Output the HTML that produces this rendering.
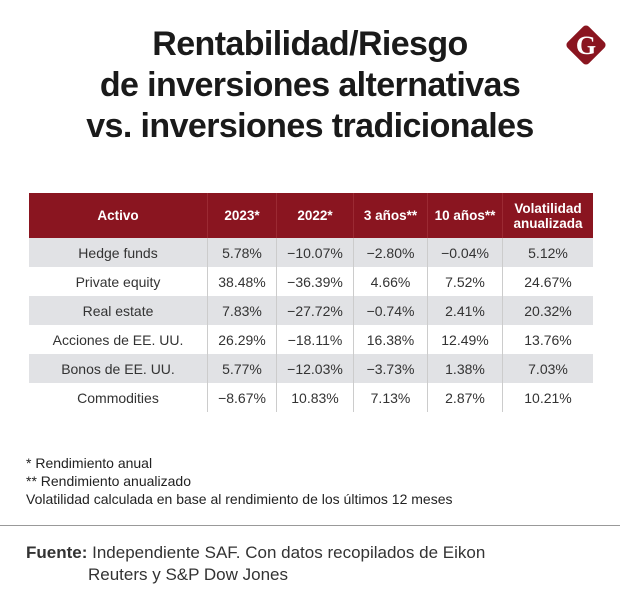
<!DOCTYPE html>
<html><head><meta charset="utf-8"><style>
body{margin:0;width:620px;height:604px;background:#fff;font-family:"Liberation Sans",sans-serif;position:relative;overflow:hidden;color:#222}
.title{position:absolute;left:0;width:620px;top:24px;text-align:center;font-weight:bold;font-size:34px;line-height:41px;color:#1a1a1a;letter-spacing:-0.6px}
table{position:absolute;left:29px;top:193px;border-collapse:collapse;font-size:14px;color:#333}
th{background:#8a1520;color:#fff;font-weight:bold;font-size:13.5px;height:45px;padding:0;border-left:1px solid #9b2a33}
td{height:29px;padding:0;text-align:center;border-left:1px solid #ccc}
td:first-child,th:first-child{border-left:none}
tr.g td{background:#e1e2e5}
.notes{position:absolute;left:26px;top:454px;font-size:14px;line-height:18px;color:#222}
.rule{position:absolute;left:0;width:620px;top:525px;height:1px;background:#999}
.src{position:absolute;left:26px;top:542px;font-size:17px;line-height:22px;color:#333}
</style></head><body>
<div class="title">Rentabilidad/Riesgo<br>de inversiones alternativas<br>vs. inversiones tradicionales</div>
<svg style="position:absolute;left:562px;top:21px" width="48" height="48" viewBox="0 0 48 48"><rect x="9" y="9" width="30" height="30" rx="4" transform="rotate(45 24 24)" fill="#8a1520"/><text x="24" y="33" text-anchor="middle" font-family="Liberation Serif" font-weight="bold" font-size="26" fill="#fff">G</text></svg>
<table>
<tr><th style="width:178px">Activo</th><th style="width:68px">2023*</th><th style="width:76px">2022*</th><th style="width:73px">3 años**</th><th style="width:74px">10 años**</th><th style="width:90px;line-height:15px">Volatilidad<br>anualizada</th></tr>
<tr class="g"><td>Hedge funds</td><td>5.78%</td><td>−10.07%</td><td>−2.80%</td><td>−0.04%</td><td>5.12%</td></tr>
<tr><td>Private equity</td><td>38.48%</td><td>−36.39%</td><td>4.66%</td><td>7.52%</td><td>24.67%</td></tr>
<tr class="g"><td>Real estate</td><td>7.83%</td><td>−27.72%</td><td>−0.74%</td><td>2.41%</td><td>20.32%</td></tr>
<tr><td>Acciones de EE. UU.</td><td>26.29%</td><td>−18.11%</td><td>16.38%</td><td>12.49%</td><td>13.76%</td></tr>
<tr class="g"><td>Bonos de EE. UU.</td><td>5.77%</td><td>−12.03%</td><td>−3.73%</td><td>1.38%</td><td>7.03%</td></tr>
<tr><td>Commodities</td><td>−8.67%</td><td>10.83%</td><td>7.13%</td><td>2.87%</td><td>10.21%</td></tr>
</table>
<div class="notes">* Rendimiento anual<br>** Rendimiento anualizado<br>Volatilidad calculada en base al rendimiento de los últimos 12 meses</div>
<div class="rule"></div>
<div class="src"><b>Fuente:</b> Independiente SAF. Con datos recopilados de Eikon<br><span style="padding-left:62px">Reuters y S&amp;P Dow Jones</span></div>
</body></html>
